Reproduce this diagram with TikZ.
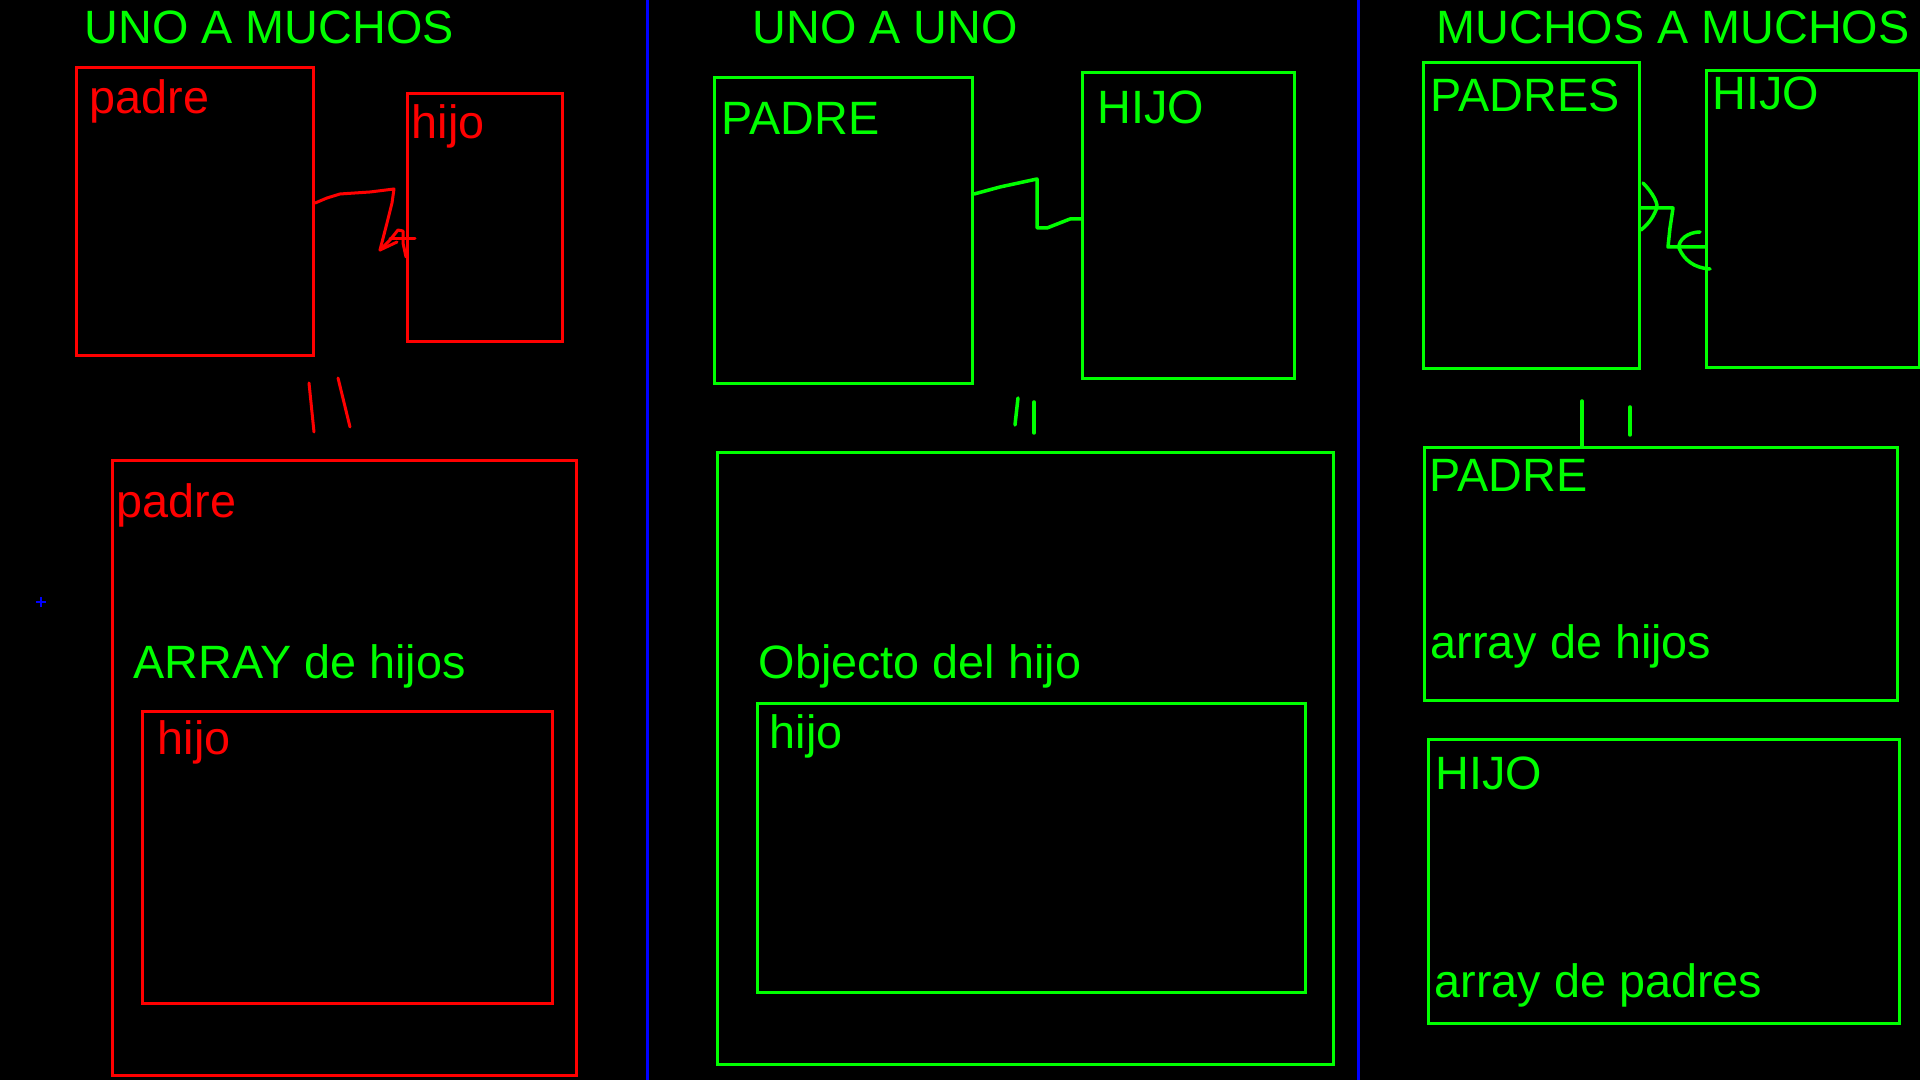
\documentclass[tikz,border=0pt]{standalone}
\usepackage{fontspec}
\setmainfont{Liberation Sans}
\usepackage{tikz}
\usetikzlibrary{positioning}

\definecolor{paintred}{RGB}{255,0,0}
\definecolor{paintgreen}{RGB}{0,255,0}
\definecolor{paintblue}{RGB}{0,0,255}
\newcommand{\labelfont}{\fontsize{13.3}{15}\selectfont}

\begin{document}
\begin{tikzpicture}[
    x=0.01cm, y=-0.01cm,
    rbox/.style={draw=paintred, line width=0.03cm, anchor=north west, inner sep=0},
    gbox/.style={draw=paintgreen, line width=0.03cm, anchor=north west, inner sep=0},
    rtxt/.style={anchor=base west, inner sep=0, font=\labelfont, text=paintred},
    gtxt/.style={anchor=base west, inner sep=0, font=\labelfont, text=paintgreen},
    rline/.style={draw=paintred, line width=0.03cm, line cap=round, line join=round},
    gline/.style={draw=paintgreen, line width=0.035cm, line cap=round, line join=round},
    divider/.style={draw=paintblue, line width=0.03cm}
]
\useasboundingbox (0,0) rectangle (1920,1080);
\fill[black] (0,0) rectangle (1920,1080);

% dividers
\draw[divider] (647,0) -- (647,1080);
\draw[divider] (1358,0) -- (1358,1080);
\draw[paintblue, line width=0.015cm] (36,602) -- (46,602) (41,597) -- (41,607);

% headings
\node[gtxt] (tituloA) at (84,44) {UNO A MUCHOS};
\node[gtxt] (tituloB) at (752,44) {UNO A UNO};
\node[gtxt] (tituloC) at (1436,44) {MUCHOS A MUCHOS};

% uno a muchos
\node[rbox, minimum width=2.37cm, minimum height=2.88cm] (padreA) at (75,66) {};
\node[rbox, minimum width=1.55cm, minimum height=2.48cm] (hijoA) at (406,92) {};
\node[rtxt] at (89,114) {padre};
\node[rtxt] at (411,139) {hijo};
\node[rbox, minimum width=4.64cm, minimum height=6.15cm] (padreAA) at (111,459) {};
\node[rbox, minimum width=4.10cm, minimum height=2.92cm] (hijoAA) at (141,710) {};
\node[rtxt] at (116,518) {padre};
\node[gtxt] at (133,679) {ARRAY de hijos};
\node[rtxt] at (157,755) {hijo};

\draw[rline] (padreA.east |- 0,203) -- (327,198) -- (340,194) -- (370,192) -- (394,189)
    -- (392,203) -- (387,223) -- (380,250) -- (397,242);
\draw[rline] (380,250) -- (390,240) -- (398,230) -- (403,231) -- (403,243) -- (hijoA.west |- 0,257);
\draw[rline] (390,239) -- (415,239);
\draw[rline] (309,383) -- (314,432);
\draw[rline] (338,378) -- (350,427);

% uno a uno
\node[gbox, minimum width=2.58cm, minimum height=3.06cm] (padreB) at (713,76) {};
\node[gbox, minimum width=2.12cm, minimum height=3.06cm] (hijoB) at (1081,71) {};
\node[gtxt] at (721,135) {PADRE};
\node[gtxt] at (1097,124) {HIJO};
\node[gbox, minimum width=6.16cm, minimum height=6.12cm] (padreBB) at (716,451) {};
\node[gbox, minimum width=5.48cm, minimum height=2.89cm] (hijoBB) at (756,702) {};
\node[gtxt] at (758,679) {Objecto del hijo};
\node[gtxt] at (769,749) {hijo};

\draw[gline] (padreB.east |- 0,194) -- (1000,187) -- (1037,179) -- (1037,228) -- (1047,228)
    -- (1070,219) -- (hijoB.west |- 0,219);
\draw[gline] (1018,398) -- (1015,425);
\draw[gline] (1034,402) -- (1034,433);

% muchos a muchos
\node[gbox, minimum width=2.16cm, minimum height=3.06cm] (padresC) at (1422,61) {};
\node[gbox, minimum width=2.13cm, minimum height=2.97cm] (hijoC) at (1705,69) {};
\node[gtxt] at (1430,112) {PADRES};
\node[gtxt] at (1712,110) {HIJO};
\node[gbox, minimum width=4.73cm, minimum height=2.53cm] (padreCC) at (1423,446) {};
\node[gbox, minimum width=4.71cm, minimum height=2.84cm] (hijoCC) at (1427,738) {};
\node[gtxt] at (1429,492) {PADRE};
\node[gtxt] at (1430,659) {array de hijos};
\node[gtxt] at (1435,790) {HIJO};
\node[gtxt] at (1434,998) {array de padres};

\draw[gline] (padresC.east |- 0,208) -- (1673,208) -- (1670,228) -- (1668,247) -- (hijoC.west |- 0,247);
\draw[gline] (1643,183) .. controls (1652,192) and (1660,205) .. (1656,210)
    .. controls (1652,220) and (1646,226) .. (1641,230);
\draw[gline] (1700,232) .. controls (1688,232) and (1678,240) .. (1679,248)
    .. controls (1684,260) and (1694,268) .. (1710,269);
\draw[gline] (padreCC.north -| 1582,0) -- (1582,401);
\draw[gline] (1630,407) -- (1630,435);
\end{tikzpicture}
\end{document}
